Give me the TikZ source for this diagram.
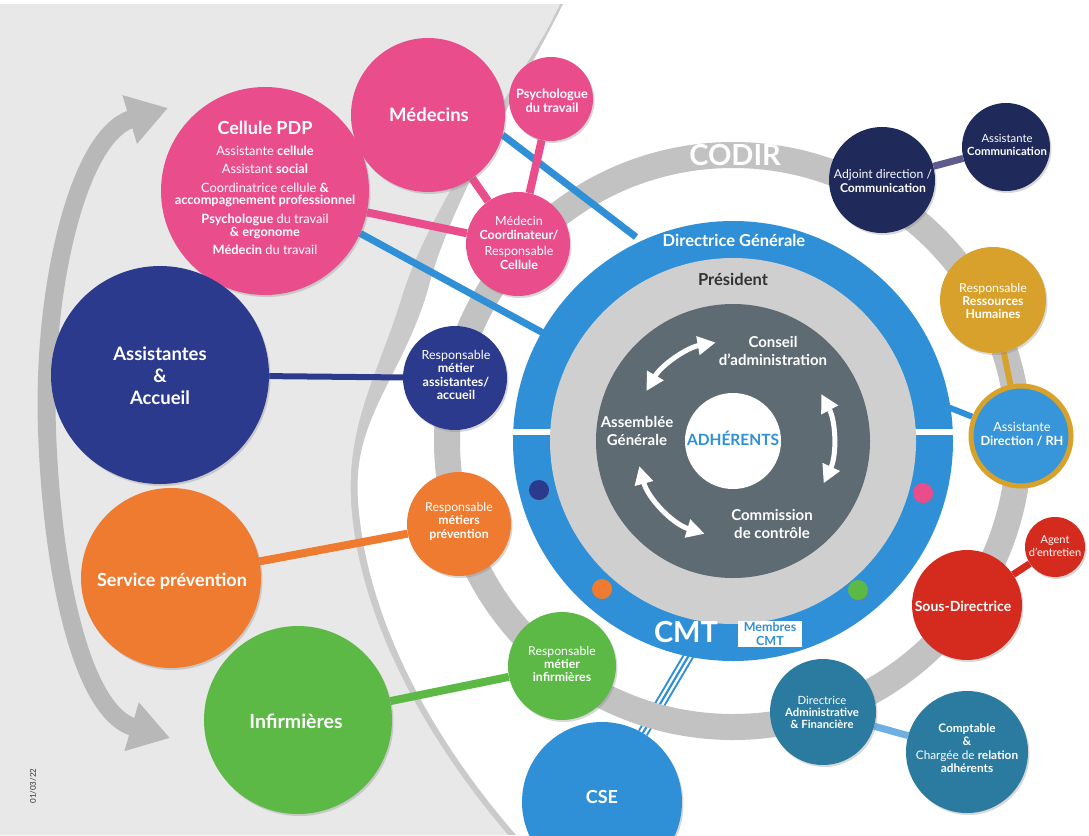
\documentclass[tikz,border=0pt]{standalone}
\usepackage{fontspec}
\setmainfont{Lato}
\usetikzlibrary{arrows.meta,shadows}
\pgfdeclarelayer{bg}
\pgfdeclarelayer{lines}
\pgfsetlayers{bg,lines,main}
\newcommand*\fsz[2]{\fontsize{#1}{#2}\selectfont}
\definecolor{pinkc}{HTML}{E94D8C}
\definecolor{navyA}{HTML}{2C3A8E}
\definecolor{orangeC}{HTML}{EF7B31}
\definecolor{greenC}{HTML}{5CB946}
\definecolor{ringblue}{HTML}{2F8FD7}
\definecolor{presgray}{HTML}{CFCFCF}
\definecolor{cagray}{HTML}{5F6B73}
\definecolor{codirgray}{HTML}{C2C2C2}
\definecolor{navyB}{HTML}{1F2A5B}
\definecolor{goldC}{HTML}{D7A12C}
\definecolor{redC}{HTML}{D52B1F}
\definecolor{tealC}{HTML}{2B7AA0}
\definecolor{bgL}{HTML}{E8E8E8}
\definecolor{bandC}{HTML}{CACACA}
\definecolor{arrgray}{HTML}{B8B8B8}
\definecolor{presText}{HTML}{333333}
\definecolor{lineCom}{HTML}{5E5C8E}
\definecolor{lineDAF}{HTML}{6DAFE2}
\definecolor{asdrhC}{HTML}{3795DA}
\begin{document}
\begin{tikzpicture}[x=1pt,y=-1pt,
  bub/.style={circle,inner sep=0pt,draw=none,drop shadow={shadow xshift=1.5pt,shadow yshift=-2pt,opacity=0.3}},
  disk/.style={circle,inner sep=0pt,draw=none},
  txt/.style={align=center,text=white,inner sep=0pt},
  lbl/.style={align=center,text=white,inner sep=0pt,font=\fsz{15}{18.5}\bfseries},
  dot/.style={circle,inner sep=0pt,minimum size=20pt,drop shadow={shadow xshift=1pt,shadow yshift=-1.5pt,opacity=0.3}},
  cirarr/.style={white,line width=5pt,{Triangle[length=18pt,width=18pt]}-{Triangle[length=18pt,width=18pt]}},
  conn/.style={line width=#1},
]
\useasboundingbox (0,0) rectangle (1089,835);

% ---------- central structure ----------
\node[disk,fill=ringblue,minimum size=440pt] (dg) at (733,441) {};
\fill[white] (508,429) rectangle (556,435);
\fill[white] (910,429) rectangle (958,435);
\node[disk,fill=presgray,minimum size=366pt] (pres) at (733,441) {};
\node[disk,fill=cagray,minimum size=274pt] (ca) at (733,441) {};
\node[disk,fill=white,minimum size=96pt] (adh) at (733,441) {};
\node[inner sep=0pt,text=ringblue,font=\fsz{15.5}{18}\bfseries] (adh-t) at (733,438) {ADHÉRENTS};

\draw[cirarr] (ca.center) ++(210:100) arc[start angle=210,end angle=260,radius=100];
\draw[cirarr] (ca.center) ++(-28:100) arc[start angle=-28,end angle=25,radius=100];
\draw[cirarr] (ca.center) ++(107:97) arc[start angle=107,end angle=165,radius=97];

\node[lbl] (conseil) at (773,351) {Conseil\\d'administration};
\node[lbl] (assemblee) at (637,431) {Assemblée\\Générale};
\node[lbl] (commission) at (772,524) {Commission\\de contrôle};
\node[inner sep=0pt,text=presText,font=\fsz{16.5}{18}\bfseries] (preslbl) at (733,279) {Président};
\node[inner sep=0pt,text=white,font=\fsz{16.5}{18}\bfseries] (dglbl) at (734,240) {Directrice Générale};
\node[inner sep=0pt,text=white,font=\fsz{29}{32}\bfseries] (cmtlbl) at (686,632) {CMT};
\node[fill=white,text=ringblue,font=\fsz{12.5}{13.5}\bfseries,align=center,inner sep=2pt,minimum width=64pt] (membres) at (770,634) {Membres\\CMT};
\node[inner sep=0pt,text=white,font=\fsz{29}{32}\bfseries] (codir) at (735,155) {CODIR};

\node[dot,fill=navyA] (d1) at (539,490) {};
\node[dot,fill=orangeC] (d2) at (602,589) {};
\node[dot,fill=greenC] (d3) at (858,590) {};
\node[dot,fill=pinkc] (d4) at (923,493) {};

% ---------- bubbles ----------
\node[bub,fill=pinkc,minimum size=208pt] (cellule) at (265,191) {};
\node[txt,font=\fsz{12.8}{12.5}] (cellule-t) at (265,188) {{\fsz{18}{20}\bfseries Cellule PDP}\\[8pt]
 Assistante \textbf{cellule}\\[6pt]
 Assistant \textbf{social}\\[6pt]
 Coordinatrice cellule \textbf{\&}\\
 \textbf{accompagnement professionnel}\\[6.5pt]
 \textbf{Psychologue} du travail\\
 \textbf{\& ergonome}\\[6pt]
 \textbf{Médecin} du travail};
\node[bub,fill=pinkc,minimum size=154pt] (medecins) at (428,115) {};
\node[txt,font=\fsz{18.5}{20}\bfseries] (medecins-t) at (429,115) {Médecins};
\node[bub,fill=pinkc,minimum size=84pt] (psycho) at (551,99) {};
\node[txt,font=\fsz{12.8}{14}\bfseries] (psycho-t) at (552,101) {Psychologue\\du travail};
\node[bub,fill=pinkc,minimum size=104pt] (medcoord) at (518,244) {};
\node[txt,font=\fsz{12.5}{13.5}] (medcoord-t) at (519,243) {Médecin\\\textbf{Coordinateur/}\\[3pt]Responsable\\\textbf{Cellule}};

\node[bub,fill=navyA,minimum size=218pt] (assist) at (160,375) {};
\node[txt,font=\fsz{18.5}{22}\bfseries] (assist-t) at (160,376) {Assistantes\\\&\\Accueil};
\node[bub,fill=navyA,minimum size=104pt] (ra) at (455,378) {};
\node[txt,font=\fsz{12.5}{13.5}] (ra-t) at (456,375) {Responsable\\\textbf{métier}\\\textbf{assistantes/}\\\textbf{accueil}};

\node[bub,fill=orangeC,minimum size=180pt] (servprev) at (171,578) {};
\node[txt,font=\fsz{18}{20}\bfseries] (servprev-t) at (172,581) {Service prévention};
\node[bub,fill=orangeC,minimum size=104pt] (rp) at (459,524) {};
\node[txt,font=\fsz{12.3}{13.5}] (rp-t) at (459,521) {Responsable\\\textbf{métiers}\\\textbf{prévention}};

\node[bub,fill=greenC,minimum size=188pt] (infirm) at (298,720) {};
\node[txt,font=\fsz{19.5}{22}\bfseries] (infirm-t) at (296,721) {Infirmières};
\node[bub,fill=greenC,minimum size=108pt] (ri) at (562,666) {};
\node[txt,font=\fsz{12.3}{13}] (ri-t) at (562,664) {Responsable\\\textbf{métier}\\\textbf{infirmières}};

\node[bub,fill=ringblue,minimum size=160pt] (cse) at (602,802) {};
\node[txt,font=\fsz{18}{20}\bfseries] (cse-t) at (602,797) {CSE};

\node[bub,fill=navyB,minimum size=106pt] (adjcom) at (882,180) {};
\node[txt,font=\fsz{12.2}{14}] (adjcom-t) at (883,181) {Adjoint direction /\\\textbf{Communication}};
\node[bub,fill=navyB,minimum size=88pt] (asscom) at (1006,147) {};
\node[txt,font=\fsz{11.3}{13}] (asscom-t) at (1007,145) {Assistante\\\textbf{Communication}};

\node[bub,fill=goldC,minimum size=106pt] (rrh) at (993,300) {};
\node[txt,font=\fsz{12.3}{13}] (rrh-t) at (993,301) {Responsable\\\textbf{Ressources}\\\textbf{Humaines}};
\node[bub,fill=asdrhC,draw=goldC,line width=5pt,minimum size=100pt] (asdrh) at (1021,436) {};
\node[txt,font=\fsz{12.7}{14}] (asdrh-t) at (1022,434) {Assistante\\\textbf{Direction / RH}};

\node[bub,fill=redC,minimum size=60pt] (agent) at (1055,547) {};
\node[txt,font=\fsz{11}{12.5}] (agent-t) at (1055,546) {Agent\\d'entretien};
\node[bub,fill=redC,minimum size=110pt] (sousdir) at (967,605) {};
\node[txt,font=\fsz{14}{16}\bfseries] (sousdir-t) at (963,606) {Sous-Directrice};

\node[bub,fill=tealC,minimum size=106pt] (daf) at (823,712) {};
\node[txt,font=\fsz{11.3}{12}] (daf-t) at (822,712) {Directrice\\\textbf{Administrative}\\\textbf{\& Financière}};
\node[bub,fill=tealC,minimum size=122pt] (compta) at (967,752) {};
\node[txt,font=\fsz{11.8}{13.5}] (compta-t) at (967,748) {\textbf{Comptable}\\\textbf{\&}\\Chargée de \textbf{relation}\\\textbf{adhérents}};

% ---------- background layer ----------
\begin{pgfonlayer}{bg}
\fill[white] (0,0) rectangle (1089,835);
\fill[bandC] (0,4) -- (563,4) .. controls (520,90) and (450,200) .. (427,293)
  .. controls (400,380) and (352,420) .. (358,500)
  .. controls (364,600) and (416,720) .. (516,835) -- (0,835) -- cycle;
\fill[bgL] (0,4) -- (560,4) -- (548,28) .. controls (500,110) and (430,210) .. (403,293)
  .. controls (380,370) and (347,420) .. (351,500)
  .. controls (356,600) and (410,720) .. (508,835) -- (0,835) -- cycle;
\node[rotate=90,inner sep=1pt,text=presText,font=\fsz{8}{9}] (date) at (33,786) {01/03/22};
\coordinate (arrtop) at (168,108);
\coordinate (arrbot) at (170,738);
\draw[arrgray,line width=18pt,{Triangle[length=40pt,width=48pt]}-{Triangle[length=40pt,width=48pt]}]
  (arrtop) .. controls (78,135) and (42,290) .. (47,430) .. controls (52,575) and (82,712) .. (arrbot);
\coordinate (cmtb) at (692,650);
\draw[ringblue,line width=11pt] (cmtb) -- (cse);
\draw[white,line width=7pt] (cmtb) -- (cse);
\draw[ringblue,line width=2.2pt] (cmtb) -- (cse);
\draw[codirgray,line width=26pt] (dg.center) circle[radius=286];
\end{pgfonlayer}

% ---------- connectors ----------
\begin{pgfonlayer}{lines}
\coordinate (b1) at (636,237);
\coordinate (b2) at (545,334);
\coordinate (b3) at (925,398);
\draw[ringblue,conn=7pt] (medecins.-15) -- (b1);
\draw[ringblue,conn=7pt] (cellule.-24) -- (b2);
\draw[pinkc,conn=8pt] (cellule) -- (medcoord);
\draw[pinkc,conn=8pt] (medecins) -- (medcoord);
\draw[pinkc,conn=8pt] (psycho) -- (medcoord);
\draw[navyA,conn=6pt] (ra) -- (assist);
\draw[orangeC,conn=8pt] (rp) -- (servprev);
\draw[greenC,conn=8pt] (ri) -- (infirm);
\draw[lineCom,conn=7pt] (adjcom) -- (asscom);
\draw[goldC,conn=6pt] (rrh) -- (asdrh);
\draw[ringblue,conn=6pt] (b3) -- (asdrh);
\draw[redC,conn=7pt] (sousdir) -- (agent);
\draw[lineDAF,conn=7pt] (daf) -- (compta);
\end{pgfonlayer}
\end{tikzpicture}
\end{document}
